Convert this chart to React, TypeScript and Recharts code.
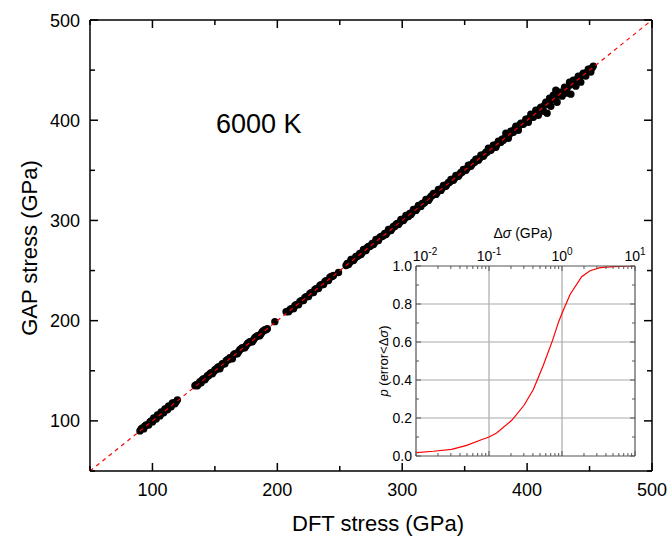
import React from 'react';
import { ScatterChart, Scatter, XAxis, YAxis, LineChart, Line, ReferenceLine } from 'recharts';

const FONT = '"Liberation Sans", Arial, sans-serif';

// Cluster 1
const dft1 = [90, 92, 93, 95, 97, 98, 100, 101, 103, 104, 106, 107, 109, 110, 112, 113, 115, 116, 118, 120];
const gap1 = [90, 93, 92, 96, 96, 99, 99, 103, 102, 106, 105, 109, 108, 112, 111, 115, 114, 118, 117, 121];
const dft1b = [91, 94, 96, 99, 102, 105, 108, 111, 114, 117, 119];
const gap1b = [92, 95, 96, 100, 102, 106, 108, 112, 114, 118, 119];
// Cluster 2
const dft2 = [134, 136, 138, 140, 142, 144, 146, 148, 150, 152, 154, 156, 158, 160, 162, 164, 166, 168, 170, 172, 174, 176, 178, 180, 182, 184, 186, 188, 190, 192, 198];
const gap2 = [135, 135, 139, 141, 141, 145, 147, 147, 151, 153, 152, 157, 157, 161, 163, 162, 167, 167, 171, 173, 173, 177, 179, 179, 183, 185, 185, 189, 191, 192, 199];
const dft2b = [135, 137, 139, 141, 143, 145, 147, 149, 151, 153, 155, 157, 159, 161, 163, 165, 167, 169, 171, 173, 175, 177, 179, 181, 183, 185, 187, 189, 191];
const gap2b = [136, 137, 138, 142, 143, 145, 148, 149, 151, 154, 155, 157, 160, 161, 163, 166, 167, 169, 172, 173, 175, 178, 179, 181, 184, 185, 187, 190, 191];
// Cluster 3
const dft3 = [207, 209, 211, 213, 215, 217, 219, 221, 223, 225, 227, 229, 231, 233, 235, 237, 239, 241, 243, 245, 249];
const gap3 = [209, 209, 212, 212, 216, 216, 220, 220, 224, 224, 228, 228, 232, 232, 236, 236, 240, 240, 244, 245, 248];
const dft3b = [208, 210, 212, 214, 216, 218, 220, 222, 224, 226, 228, 230, 232, 234, 236, 238, 240, 242, 244];
const gap3b = [209, 211, 212, 215, 216, 219, 220, 223, 224, 227, 228, 231, 232, 235, 236, 239, 240, 243, 244];
// Cluster 4
const dft4 = [255, 257, 259, 261, 263, 265, 267, 269, 271, 273, 275, 277, 279, 281, 283, 285, 287, 289, 291, 293, 295, 297, 299, 301, 303, 305, 307, 309, 311, 313, 315, 317, 319, 321, 323, 325, 327, 329, 331, 333, 335, 337, 339, 341, 343, 345, 347, 349, 351, 353, 355, 357, 359, 361, 363, 365, 367, 369, 371, 373, 375, 377, 379, 381, 383, 385, 387, 389, 391, 393, 395, 397, 399, 401, 403, 405, 407, 409, 411, 413, 415, 416, 418, 419, 421, 423, 424, 426, 428, 430, 432, 434, 435, 437, 439, 441, 443, 445, 447, 449, 451, 453];
const gap4 = [255, 256, 261, 260, 264, 265, 266, 271, 270, 274, 275, 276, 281, 280, 284, 285, 286, 291, 290, 294, 296, 296, 301, 300, 305, 304, 306, 311, 310, 315, 314, 317, 321, 320, 324, 327, 326, 331, 330, 335, 334, 338, 341, 340, 345, 344, 348, 351, 350, 355, 354, 358, 361, 360, 365, 364, 368, 372, 370, 375, 373, 379, 378, 380, 387, 382, 389, 388, 394, 390, 397, 396, 401, 398, 406, 403, 410, 405, 413, 409, 418, 407, 422, 414, 425, 430, 418, 428, 424, 433, 427, 438, 426, 440, 434, 444, 438, 447, 444, 451, 448, 454];
const dft4b = [256, 258, 260, 262, 264, 266, 268, 270, 272, 274, 276, 278, 280, 282, 284, 286, 288, 290, 292, 294, 296, 298, 300, 302, 304, 306, 308, 310, 312, 314, 316, 318, 320, 322, 324, 326, 328, 330, 332, 334, 336, 338, 340, 342, 344, 346, 348, 350, 352, 354, 356, 358, 360, 362, 364, 366, 368, 370, 372, 374, 376, 378, 380, 382, 384, 386, 388, 390, 392, 394, 396, 398, 400, 402, 404, 406, 408, 410, 412, 414, 416, 418, 420, 422, 424, 426, 428, 430, 432, 434, 436, 438, 440, 442, 444, 446, 448, 450, 452];
const gap4b = [257, 258, 261, 262, 264, 267, 268, 270, 273, 274, 277, 278, 280, 283, 284, 287, 288, 291, 292, 294, 297, 298, 301, 302, 304, 307, 308, 311, 312, 314, 317, 318, 321, 322, 325, 326, 328, 331, 332, 335, 336, 338, 341, 342, 345, 346, 348, 351, 352, 355, 356, 358, 361, 362, 365, 366, 368, 371, 372, 375, 376, 378, 381, 382, 385, 386, 388, 391, 392, 395, 396, 398, 401, 402, 405, 406, 408, 411, 412, 415, 416, 418, 421, 422, 425, 426, 428, 431, 432, 435, 436, 438, 441, 442, 445, 446, 448, 451, 452];

const mainTicks = [50, 100, 150, 200, 250, 300, 350, 400, 450, 500];
const diagEnds = [50, 500];

// Inset: cumulative probability p(error < Δσ)
const insetDs = [0.0102, 0.0173, 0.0308, 0.0494, 0.0753, 0.1, 0.127, 0.205, 0.302, 0.405, 0.555, 0.744, 0.9, 1.045, 1.29, 1.86, 2.42, 3.32, 5.05, 10];
const insetP = [0.018, 0.025, 0.035, 0.056, 0.083, 0.1, 0.121, 0.188, 0.267, 0.35, 0.478, 0.61, 0.707, 0.768, 0.85, 0.944, 0.975, 0.991, 0.997, 1.0];
const insetXTicks = [0.01, 0.02, 0.03, 0.04, 0.05, 0.06, 0.07, 0.08, 0.09, 0.1, 0.2, 0.3, 0.4, 0.5, 0.6, 0.7, 0.8, 0.9, 1, 2, 3, 4, 5, 6, 7, 8, 9, 10];
const insetXMajor = [0.01, 0.1, 1, 10];
const insetXGrid = [0.1, 1];
const insetYTicks = [0, 0.1, 0.2, 0.3, 0.4, 0.5, 0.6, 0.7, 0.8, 0.9, 1.0];
const insetYGrid = [0.2, 0.4, 0.6, 0.8];

const pair = (xs: number[], ys: number[]) => xs.map((x, i) => ({ x, y: ys[i] }));
const points = [
  ...pair(dft1, gap1), ...pair(dft1b, gap1b),
  ...pair(dft2, gap2), ...pair(dft2b, gap2b),
  ...pair(dft3, gap3), ...pair(dft3b, gap3b),
  ...pair(dft4, gap4), ...pair(dft4b, gap4b),
];
const diag = diagEnds.map((v) => ({ x: v, y: v }));
const insetData = insetDs.map((x, i) => ({ x, p: insetP[i] }));

const mainTick = (side: string) => (props: any) => {
  const { x, y, payload } = props;
  const v = payload.value;
  const major = v % 100 === 0;
  const len = major ? 8 : 5;
  let line = null;
  let label = null;
  if (side === 'bottom') {
    line = <line x1={x} y1={y} x2={x} y2={y - len} stroke="#000" strokeWidth={1.5} />;
    if (major && v !== 50) label = <text x={x} y={y + 25} textAnchor="middle" fontSize={18} fontFamily={FONT} fill="#000">{v}</text>;
  } else if (side === 'top') {
    line = <line x1={x} y1={y} x2={x} y2={y + len} stroke="#000" strokeWidth={1.5} />;
  } else if (side === 'left') {
    line = <line x1={x} y1={y} x2={x + len} y2={y} stroke="#000" strokeWidth={1.5} />;
    if (major) label = <text x={x - 10} y={y + 6.5} textAnchor="end" fontSize={18} fontFamily={FONT} fill="#000">{v}</text>;
  } else {
    line = <line x1={x} y1={y} x2={x - len} y2={y} stroke="#000" strokeWidth={1.5} />;
  }
  return <g>{line}{label}</g>;
};

const INSET_FRAME = '#555';
const insetXTick = (side: string) => (props: any) => {
  const { x, y, payload } = props;
  const v = payload.value;
  const major = insetXMajor.includes(v);
  const len = major ? 5 : 3;
  const dir = side === 'top' ? 1 : -1;
  const exp = Math.round(Math.log10(v));
  const shift = v === 0.01 ? 9 : 0;
  return (
    <g>
      <line x1={x} y1={y} x2={x} y2={y + dir * len} stroke={INSET_FRAME} strokeWidth={1} />
      {side === 'top' && major ? (
        <text x={x + shift} y={y - 5} textAnchor="middle" fontSize={14} fontFamily={FONT} fill="#000">
          <tspan>10</tspan>
          <tspan dy={-6} fontSize={10}>{String(exp)}</tspan>
        </text>
      ) : null}
    </g>
  );
};

const insetYTick = (side: string) => (props: any) => {
  const { x, y, payload } = props;
  const v = payload.value;
  const major = Math.round(v * 10) % 2 === 0;
  const len = major ? 5 : 3;
  const dir = side === 'left' ? 1 : -1;
  return (
    <g>
      <line x1={x} y1={y} x2={x + dir * len} y2={y} stroke={INSET_FRAME} strokeWidth={1} />
      {side === 'left' && major ? (
        <text x={x - 4} y={y + 5} textAnchor="end" fontSize={14} fontFamily={FONT} fill="#000">{v.toFixed(1)}</text>
      ) : null}
    </g>
  );
};

const dot = (p: any) => <circle cx={p.cx} cy={p.cy} r={3.7} fill="#000" />;
const noDot = () => <g />;

export default function App() {
  const axisLine = { stroke: '#000', strokeWidth: 1.5 };
  const insetAxisLine = { stroke: INSET_FRAME, strokeWidth: 1.2 };
  return (
    <div style={{ position: 'absolute', left: 0, top: 0, width: 669, height: 545, background: '#fff' }}>
      <div style={{ position: 'absolute', left: 0, top: 0 }}>
        <ScatterChart width={669} height={545} margin={{ top: 10, right: 7, bottom: 34, left: 10 }}>
          <XAxis xAxisId="b" orientation="bottom" dataKey="x" type="number" domain={[50, 500]} allowDataOverflow ticks={mainTicks} interval={0} height={40} tickSize={0} tickMargin={0} tickLine={false} axisLine={axisLine} tick={mainTick('bottom')} />
          <XAxis xAxisId="t" orientation="top" dataKey="x" type="number" domain={[50, 500]} allowDataOverflow ticks={mainTicks} interval={0} height={10} tickSize={0} tickMargin={0} tickLine={false} axisLine={axisLine} tick={mainTick('top')} />
          <YAxis yAxisId="l" orientation="left" dataKey="y" type="number" domain={[50, 500]} allowDataOverflow ticks={mainTicks} interval={0} width={80} tickSize={0} tickMargin={0} tickLine={false} axisLine={axisLine} tick={mainTick('left')} />
          <YAxis yAxisId="r" orientation="right" dataKey="y" type="number" domain={[50, 500]} allowDataOverflow ticks={mainTicks} interval={0} width={10} tickSize={0} tickMargin={0} tickLine={false} axisLine={axisLine} tick={mainTick('right')} />
          <Scatter xAxisId="b" yAxisId="l" data={points} shape={dot} isAnimationActive={false} />
          <Scatter xAxisId="b" yAxisId="l" data={diag} shape={noDot} line={{ stroke: '#ff0000', strokeWidth: 1.2, strokeDasharray: '4 4' }} isAnimationActive={false} />
        </ScatterChart>
      </div>
      <div style={{ position: 'absolute', left: 360, top: 215 }}>
        <LineChart width={290} height={250} data={insetData} margin={{ top: 21, right: 10, bottom: 4, left: 16 }}>
          <XAxis xAxisId="t" orientation="top" dataKey="x" type="number" scale="log" domain={[0.01, 10]} allowDataOverflow ticks={insetXTicks} interval={0} height={30} tickSize={0} tickMargin={0} tickLine={false} axisLine={insetAxisLine} tick={insetXTick('top')} />
          <XAxis xAxisId="b" orientation="bottom" dataKey="x" type="number" scale="log" domain={[0.01, 10]} allowDataOverflow ticks={insetXTicks} interval={0} height={5} tickSize={0} tickMargin={0} tickLine={false} axisLine={insetAxisLine} tick={insetXTick('bottom')} />
          <YAxis yAxisId="l" orientation="left" type="number" domain={[0, 1]} allowDataOverflow ticks={insetYTicks} interval={0} width={40} tickSize={0} tickMargin={0} tickLine={false} axisLine={insetAxisLine} tick={insetYTick('left')} />
          <YAxis yAxisId="r" orientation="right" type="number" domain={[0, 1]} allowDataOverflow ticks={insetYTicks} interval={0} width={5} tickSize={0} tickMargin={0} tickLine={false} axisLine={insetAxisLine} tick={insetYTick('right')} />
          {insetXGrid.map((g) => (
            <ReferenceLine key={'gx' + g} xAxisId="t" yAxisId="l" x={g} stroke="#aaa" strokeWidth={1.2} />
          ))}
          {insetYGrid.map((g) => (
            <ReferenceLine key={'gy' + g} xAxisId="t" yAxisId="l" y={g} stroke="#aaa" strokeWidth={1.2} />
          ))}
          <Line xAxisId="t" yAxisId="l" dataKey="p" type="linear" stroke="#ff0000" strokeWidth={1.2} dot={false} isAnimationActive={false} />
        </LineChart>
      </div>
      <svg width={669} height={545} style={{ position: 'absolute', left: 0, top: 0, pointerEvents: 'none' }}>
        <text x={216} y={133} fontSize={27} fontFamily={FONT} fill="#000">6000 K</text>
        <text x={378} y={531} textAnchor="middle" fontSize={22} fontFamily={FONT} fill="#000">DFT stress (GPa)</text>
        <text x={37} y={248} textAnchor="middle" fontSize={22} fontFamily={FONT} fill="#000" transform="rotate(-90, 37, 248)">GAP stress (GPa)</text>
        <text x={523} y={238} textAnchor="middle" fontSize={14} fontFamily={FONT} fill="#000">
          Δ<tspan fontStyle="italic">σ</tspan> (GPa)
        </text>
        <text x={388} y={361} textAnchor="middle" fontSize={13} fontFamily={FONT} fill="#000" transform="rotate(-90, 388, 361)">
          <tspan fontStyle="italic">p</tspan> (error&lt;Δ<tspan fontStyle="italic">σ</tspan>)
        </text>
      </svg>
    </div>
  );
}
